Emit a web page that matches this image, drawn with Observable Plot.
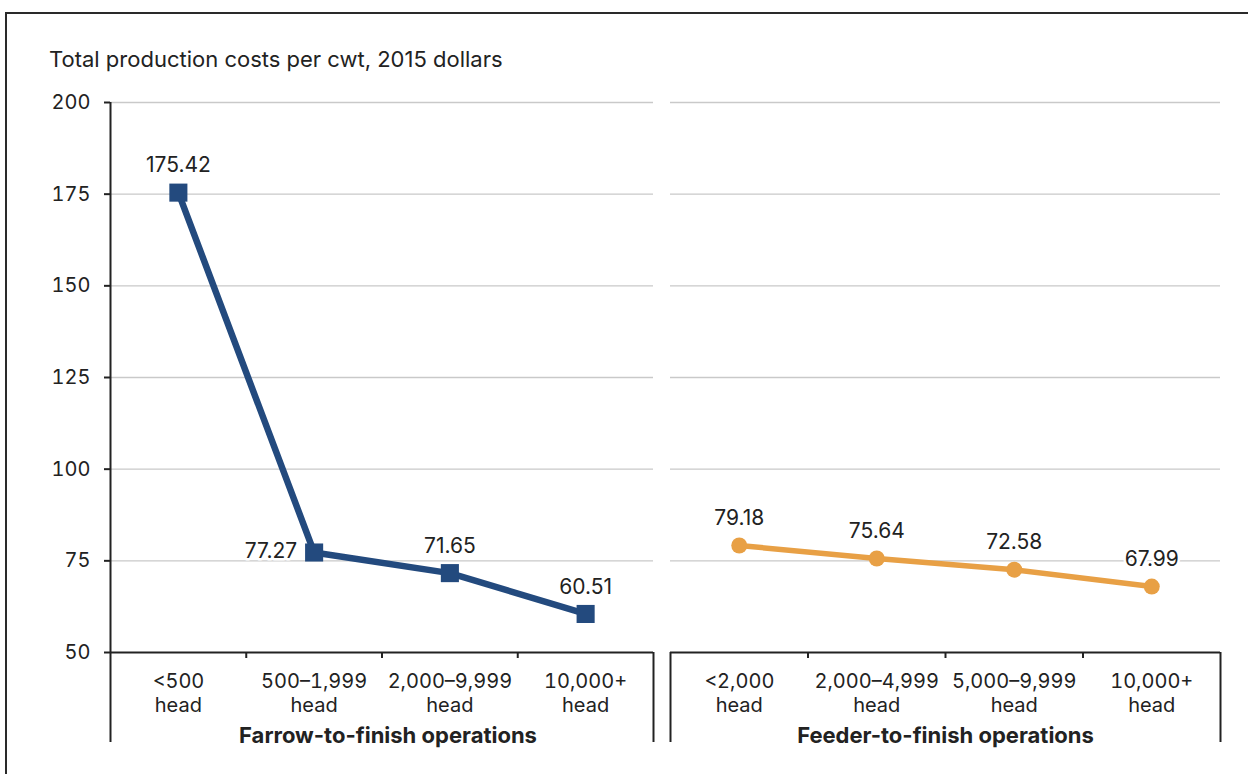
<!DOCTYPE html>
<html>
<head>
<meta charset="utf-8">
<script src="https://cdn.jsdelivr.net/npm/d3@7"></script>
<script src="https://cdn.jsdelivr.net/npm/@observablehq/plot@0.6"></script>
<style>
  html, body { margin: 0; padding: 0; background: #fff; }
  body { width: 1248px; height: 774px; overflow: hidden; position: relative; font-family: Inter, "Noto Sans", sans-serif; color: #222; }
  #frame { position: absolute; left: 5px; top: 12px; width: 1400px; height: 900px; border: 2px solid #2a2a2a; box-sizing: border-box; }
  #title { position: absolute; left: 49px; top: 46px; font-size: 22px; line-height: 26px; color: #222; white-space: nowrap; }
  .panel { position: absolute; top: 80px; }
</style>
</head>
<body>
<div id="frame"></div>
<div id="title">Total production costs per cwt, 2015 dollars</div>
<div id="left" class="panel" style="left:0px"></div>
<div id="right" class="panel" style="left:660px"></div>
<script>
// Cost per hundredweight by operation size, 2015 dollars
const farrowSizes = ["<500\nhead", "500–1,999\nhead", "2,000–9,999\nhead", "10,000+\nhead"];
const farrowCosts = [175.42, 77.27, 71.65, 60.51];
const feederSizes = ["<2,000\nhead", "2,000–4,999\nhead", "5,000–9,999\nhead", "10,000+\nhead"];
const feederCosts = [79.18, 75.64, 72.58, 67.99];
const yTicks = [50, 75, 100, 125, 150, 175, 200];
const groups = ["Farrow-to-finish operations", "Feeder-to-finish operations"];

const ink = "#222";

function panel({sizes, costs, group, groupShift = 0, color, symbol, r, lineWidth, showY, width, marginLeft, marginRight, sideLabels = []}) {
  const rows = sizes.map((s, i) => ({i, pos: i + 0.5, size: s, cost: costs[i]}));
  const above = rows.filter(d => !sideLabels.includes(d.i));
  const beside = rows.filter(d => sideLabels.includes(d.i));
  return Plot.plot({
    width,
    height: 680,
    marginTop: 22,
    marginBottom: 108,
    marginLeft,
    marginRight,
    style: {fontFamily: "Inter, 'Noto Sans', sans-serif", fontSize: "20px", color: ink, background: "transparent", overflow: "visible"},
    x: {domain: [0, sizes.length], label: null},
    y: {domain: [yTicks[0], yTicks[yTicks.length - 1]], label: null, axis: showY ? undefined : null},
    marks: [
      Plot.gridY(yTicks.slice(1), {stroke: "#c9c9c9", strokeOpacity: 1, strokeWidth: 1.3}),
      showY ? Plot.axisY(yTicks, {tickSize: 6, tickPadding: 14, fontSize: 20, stroke: ink, strokeWidth: 2, label: null}) : null,
      showY ? Plot.ruleX([0], {y1: yTicks[0], y2: yTicks[yTicks.length - 1], stroke: ink, strokeWidth: 2}) : null,
      Plot.ruleY([yTicks[0]], {stroke: ink, strokeWidth: 2.2}),
      // panel end brackets running down past the size labels
      Plot.axisX([0, sizes.length], {tickSize: 90, tickFormat: () => "", stroke: ink, strokeWidth: 2, label: null}),
      // small ticks between size classes
      Plot.axisX(d3.range(1, sizes.length), {tickSize: 6, tickFormat: () => "", stroke: ink, strokeWidth: 2, label: null}),
      Plot.axisX(rows.map(d => d.pos), {tickSize: 0, tickPadding: 19, tickFormat: p => sizes[Math.floor(p)], fontSize: 20, lineHeight: 1.18, label: null}),
      Plot.text([group], {text: d => d, frameAnchor: "bottom", lineAnchor: "middle", dx: groupShift, dy: 83, fontWeight: "bold", fontSize: 22, fill: ink}),
      Plot.line(rows, {x: "pos", y: "cost", stroke: color, strokeWidth: lineWidth, strokeLinejoin: "round"}),
      Plot.dot(rows, {x: "pos", y: "cost", symbol, r, fill: color, stroke: null}),
      Plot.text(above, {x: "pos", y: "cost", text: d => d.cost.toFixed(2), dy: -27, fontSize: 21, fill: ink, stroke: "white", strokeWidth: 5}),
      Plot.text(beside, {x: "pos", y: "cost", text: d => d.cost.toFixed(2), dx: -17, dy: -1, textAnchor: "end", fontSize: 21, fill: ink, stroke: "white", strokeWidth: 5})
    ]
  });
}

document.getElementById("left").appendChild(panel({
  sizes: farrowSizes, costs: farrowCosts, group: groups[0], groupShift: 6,
  color: "#234a7e", symbol: "square", r: 10.2, lineWidth: 6.5,
  showY: true, width: 660, marginLeft: 110, marginRight: 7, sideLabels: [1]
}));

document.getElementById("right").appendChild(panel({
  sizes: feederSizes, costs: feederCosts, group: groups[1],
  color: "#e8a045", symbol: "circle", r: 8, lineWidth: 5.5,
  showY: false, width: 588, marginLeft: 10, marginRight: 28
}));
</script>
</body>
</html>
